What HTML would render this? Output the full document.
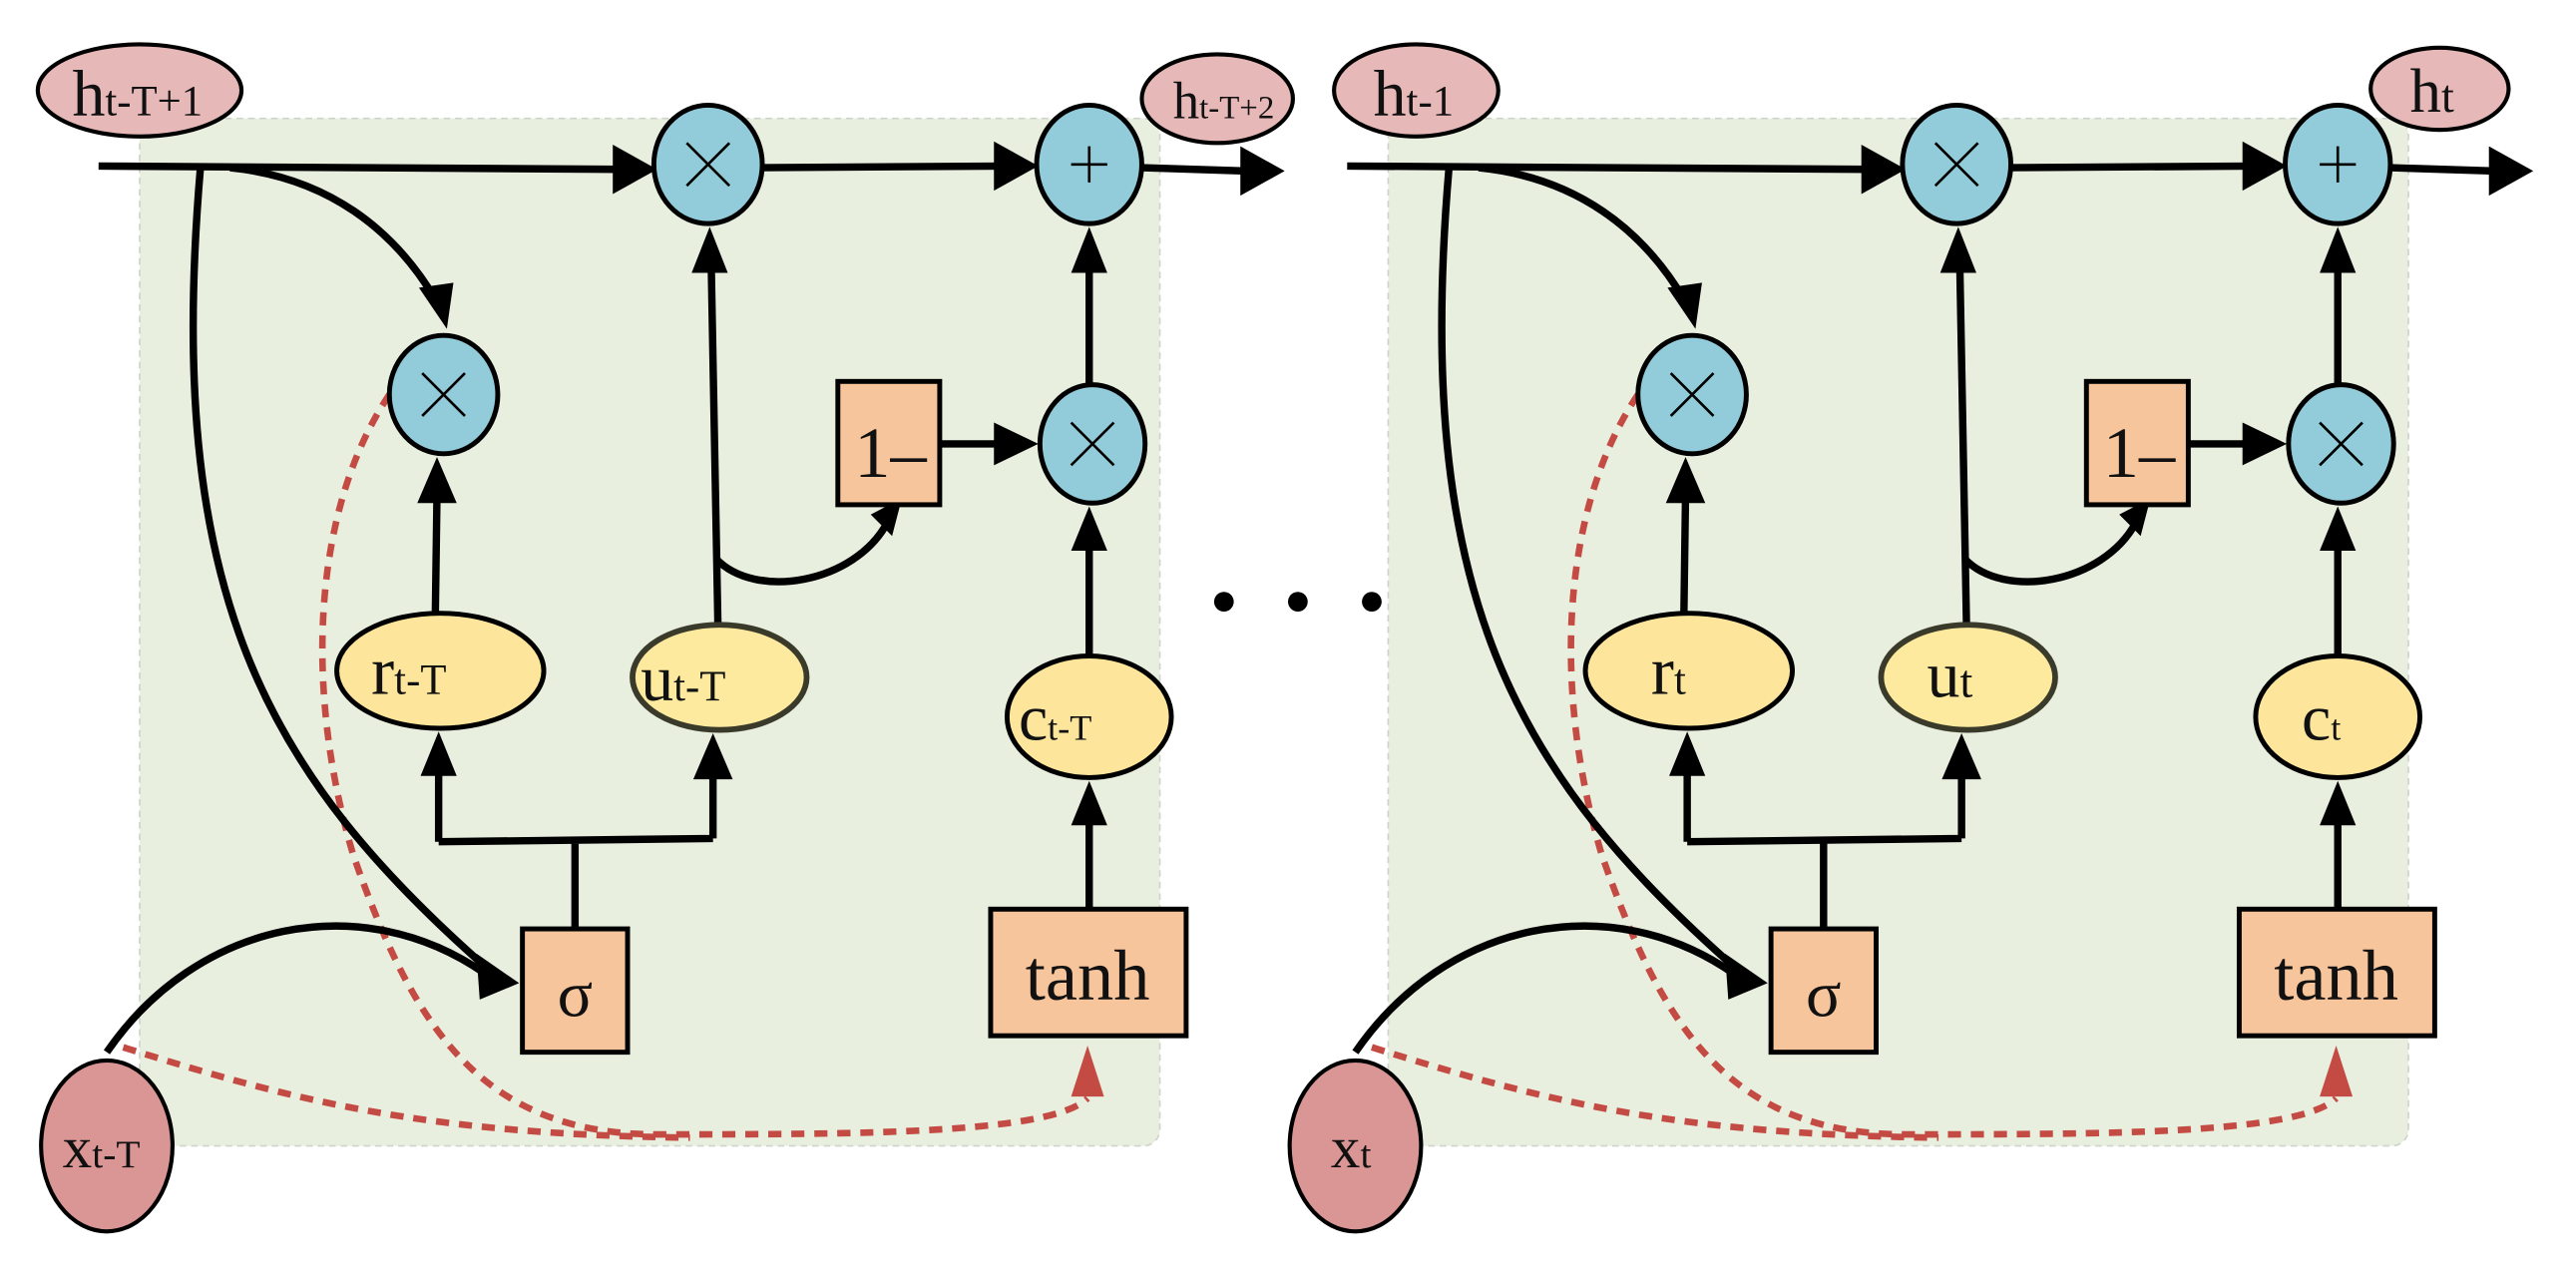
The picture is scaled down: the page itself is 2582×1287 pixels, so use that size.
<!DOCTYPE html>
<html><head><meta charset="utf-8"><style>
html,body{margin:0;padding:0;background:#fff;width:2582px;height:1287px;overflow:hidden}
svg{display:block}
text{font-family:"Liberation Serif","DejaVu Serif",serif;fill:#111}
</style></head><body>
<svg width="2582" height="1287" viewBox="0 0 1568 781" preserveAspectRatio="none" xmlns="http://www.w3.org/2000/svg">
<defs>
<g id="cell">
<rect x="85" y="72" width="621" height="625" rx="10" fill="#e8efdf" stroke="#cfd3cc" stroke-dasharray="4 3"/>
<g fill="none" stroke="#c44b43" stroke-width="4" stroke-dasharray="8 6">
<path d="M237,240 C190,310 185,420 215,520 C250,620 290,690 400,690 C520,690 640,690 662,668"/>
<path d="M75,637 C180,670 260,690 420,692"/>
</g>
<path d="M652,667 L662,636 L672,667z" fill="#c44b43"/>
<g fill="none" stroke="#000" stroke-width="4.5">
<path d="M60,101 L380,103"/>
<path d="M462,102 L612,101"/>
<path d="M695,102 L758,104"/>
<path d="M140,102 C200,108 240,140 265,182"/>
<path d="M122,102 C100,360 160,470 300,592"/>
<path d="M65,640 C120,560 220,540 295,592"/>
<path d="M265,372 L266,300"/>
<path d="M350,565 L350,512 M267,512 L434,510 M267,512 L267,470 M434,510 L434,470"/>
<path d="M437,380 L433,165"/>
<path d="M436,340 C460,365 520,355 540,318"/>
<path d="M572,270 L612,270"/>
<path d="M663,234 L663,165"/>
<path d="M663,398 L663,330"/>
<path d="M663,553 L663,500"/>
</g>
<g fill="#000">
<path d="M373,88 L400,103 L373,118z"/>
<path d="M605,86 L632,101 L605,116z"/>
<path d="M755,89 L782,104 L755,119z"/>
<path d="M255,175 L276,172 L272,200z"/>
<path d="M254,306 L266,278 L278,306z"/>
<path d="M256,472 L267,445 L278,472z"/>
<path d="M422,474 L434,446 L446,474z"/>
<path d="M421,166 L432,138 L443,166z"/>
<path d="M530,313 L549,303 L543,326z"/>
<path d="M605,257 L632,270 L605,283z"/>
<path d="M652,166 L663,138 L674,166z"/>
<path d="M652,335 L663,308 L674,335z"/>
<path d="M652,502 L663,475 L674,502z"/>
<path d="M290,580 L316,598 L292,608z"/>
</g>
<g stroke="#000" stroke-width="3">
<ellipse cx="431" cy="100" rx="33" ry="36" fill="#92cbd9"/>
<ellipse cx="663" cy="100" rx="32" ry="36" fill="#92cbd9"/>
<ellipse cx="270" cy="240" rx="33" ry="36" fill="#92cbd9"/>
<ellipse cx="665" cy="270" rx="32" ry="36" fill="#92cbd9"/>
<ellipse cx="268" cy="408" rx="63" ry="35" fill="#fde59c"/>
<ellipse cx="438" cy="412" rx="53" ry="32" fill="#fdea9e" stroke="#3a3a2a" stroke-width="3.5"/>
<ellipse cx="663" cy="436" rx="50" ry="37" fill="#fde59c"/>
<rect x="318" y="565" width="64" height="75" fill="#f7c59b"/>
<rect x="510" y="232" width="62" height="75" fill="#f7c59b"/>
<rect x="603" y="553" width="119" height="77" fill="#f7c59b"/>
</g>
<g stroke="#000" stroke-width="1.6">
<path d="M418,87 L444,113 M444,87 L418,113"/>
<path d="M257,227 L283,253 M283,227 L257,253"/>
<path d="M652,257 L678,283 M678,257 L652,283"/>
<path d="M663,89 V111 M652,100 H674"/>
</g>
<text x="350" y="618" font-size="40" text-anchor="middle">σ</text>
<text x="520" y="290" font-size="44">1–</text>
<text x="662" y="608" font-size="44" text-anchor="middle">tanh</text>
</g>
</defs>
<use href="#cell"/>
<use href="#cell" x="760"/>
<g stroke="#000" stroke-width="2.5" fill="#e6b8b7">
<ellipse cx="85" cy="55" rx="62" ry="28"/>
<ellipse cx="741" cy="60" rx="46" ry="27"/>
<ellipse cx="862" cy="55" rx="50" ry="28"/>
<ellipse cx="1485" cy="54" rx="42" ry="25"/>
</g>
<g stroke="#000" stroke-width="2.5" fill="#d99694">
<ellipse cx="65" cy="697" rx="40" ry="52"/>
<ellipse cx="825" cy="697" rx="40" ry="52"/>
</g>
<text x="44" y="70" font-size="40">h<tspan font-size="26">t-T+1</tspan></text>
<text x="714" y="72" font-size="32">h<tspan font-size="20">t-T+2</tspan></text>
<text x="836" y="70" font-size="40">h<tspan font-size="26">t-1</tspan></text>
<text x="1467" y="68" font-size="38">h<tspan font-size="28">t</tspan></text>
<text x="38" y="710" font-size="36">x<tspan font-size="24">t-T</tspan></text>
<text x="810" y="710" font-size="36">x<tspan font-size="24">t</tspan></text>
<text x="226" y="422" font-size="42">r<tspan font-size="26">t-T</tspan></text>
<text x="390" y="426" font-size="40">u<tspan font-size="26">t-T</tspan></text>
<text x="620" y="450" font-size="40">c<tspan font-size="22">t-T</tspan></text>
<text x="1005" y="422" font-size="42">r<tspan font-size="26">t</tspan></text>
<text x="1173" y="424" font-size="40">u<tspan font-size="28">t</tspan></text>
<text x="1401" y="450" font-size="40">c<tspan font-size="22">t</tspan></text>
<g fill="#000"><circle cx="745" cy="366" r="6"/><circle cx="790" cy="366" r="6"/><circle cx="835" cy="366" r="6"/></g>
</svg>
</body></html>
